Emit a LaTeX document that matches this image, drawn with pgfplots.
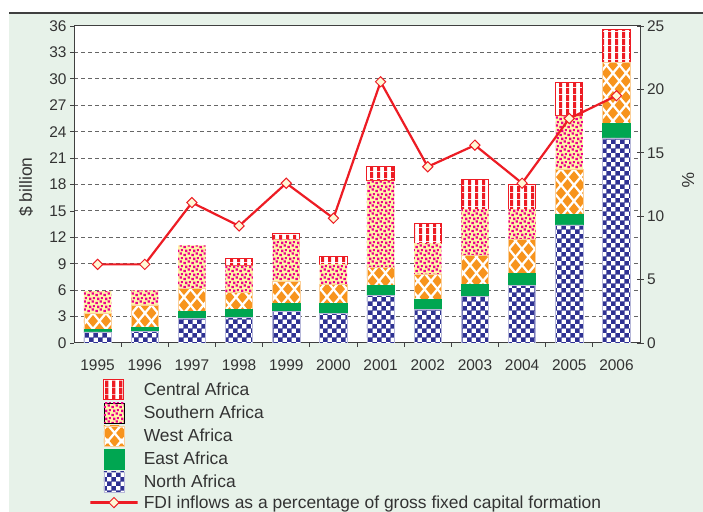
\documentclass[border=0pt]{standalone}
\usepackage{fontspec}
\setmainfont{Liberation Sans}
\usepackage{pgfplots}
\pgfplotsset{compat=1.18}
\usetikzlibrary{patterns}

\definecolor{bg}{HTML}{E7F2E9}
\definecolor{navy}{HTML}{2E3192}
\definecolor{egreen}{HTML}{00A651}
\definecolor{worange}{HTML}{F7941D}
\definecolor{spink}{HTML}{EC008C}
\definecolor{syellow}{HTML}{FFF6A8}
\definecolor{cred}{HTML}{ED1C24}
\definecolor{mkfill}{HTML}{FFF8D6}
\definecolor{txt}{HTML}{333333}

\pgfdeclarepatternformonly{checker}{\pgfqpoint{0pt}{0pt}}{\pgfqpoint{9pt}{9pt}}{\pgfqpoint{9pt}{9pt}}{%
  \pgfpathrectangle{\pgfqpoint{0pt}{0pt}}{\pgfqpoint{4.6pt}{4.6pt}}%
  \pgfpathrectangle{\pgfqpoint{4.5pt}{4.5pt}}{\pgfqpoint{4.6pt}{4.6pt}}%
  \pgfusepath{fill}}

\newcommand\pdiam[2]{%
  \pgfpathmoveto{\pgfpoint{#1pt-5.1pt}{#2pt}}%
  \pgfpathlineto{\pgfpoint{#1pt}{#2pt+5.9pt}}%
  \pgfpathlineto{\pgfpoint{#1pt+5.1pt}{#2pt}}%
  \pgfpathlineto{\pgfpoint{#1pt}{#2pt-5.9pt}}%
  \pgfpathclose}
\pgfdeclarepatternformonly{diam}{\pgfqpoint{0pt}{0pt}}{\pgfqpoint{13.5pt}{16pt}}{\pgfqpoint{13.5pt}{16pt}}{%
  \pdiam{6.75}{8}\pdiam{0}{0}\pdiam{13.5}{0}\pdiam{0}{16}\pdiam{13.5}{16}%
  \pgfusepath{fill}}

\pgfdeclarepatternformonly{sdots}{\pgfqpoint{0pt}{0pt}}{\pgfqpoint{8pt}{8pt}}{\pgfqpoint{8pt}{8pt}}{%
  \pgfpathrectangle{\pgfqpoint{0.5pt}{0.8pt}}{\pgfqpoint{2.3pt}{2.3pt}}%
  \pgfpathrectangle{\pgfqpoint{4.6pt}{2.4pt}}{\pgfqpoint{2.3pt}{2.3pt}}%
  \pgfpathrectangle{\pgfqpoint{2.2pt}{5.0pt}}{\pgfqpoint{2.3pt}{2.3pt}}%
  \pgfpathrectangle{\pgfqpoint{5.9pt}{5.9pt}}{\pgfqpoint{1.9pt}{1.9pt}}%
  \pgfusepath{fill}}

\pgfdeclarepatternformonly{vstripes}{\pgfqpoint{0pt}{0pt}}{\pgfqpoint{6.6pt}{6.6pt}}{\pgfqpoint{6.6pt}{6.6pt}}{%
  \pgfpathrectangle{\pgfqpoint{0pt}{0pt}}{\pgfqpoint{3.4pt}{6.6pt}}%
  \pgfusepath{fill}}

\pgfplotsset{
  patchleg/.style={legend image code/.code={\draw[##1] (-10bp,-10bp) rectangle (10bp,10bp);}},
  fdistyle/.style={cred, line width=2.2bp, mark=square*, mark size=3.6bp,
    mark options={rotate=45, fill=mkfill, draw=cred, line width=1bp, solid}},
  fdileg/.style={fdistyle,
    legend image code/.code={\draw[mark repeat=2, mark phase=2, ##1] plot coordinates {(-10bp,0bp) (0bp,0bp) (10bp,0bp)};}},
}

\begin{document}
\begin{tikzpicture}[x=1bp,y=1bp]
\useasboundingbox (0,0) rectangle (703,512);
\fill[white] (0,0) rectangle (703,512);
\fill[bg] (9,0) rectangle (703,499);
\draw[line width=1.5bp, black!75] (9,499) -- (703,499);

\begin{axis}[
  at={(74bp,169bp)}, anchor=south west,
  scale only axis, width=566bp, height=317bp,
  axis background/.style={fill=white},
  ybar stacked, bar width=0.58,
  xmin=-0.5, xmax=11.5, ymin=0, ymax=36,
  xtick={0,...,11},
  xticklabels={1995,1996,1997,1998,1999,2000,2001,2002,2003,2004,2005,2006},
  major x tick style={draw=none},
  minor xtick={0.5,1.5,...,10.5},
  minor tick length=4bp,
  major tick length=4bp,
  ytick={0,3,...,36},
  ytick pos=left, xtick pos=bottom,
  tick align=outside,
  tick style={black!75, line width=0.8bp},
  ymajorgrids,
  grid style={dash pattern=on 4bp off 3bp, black!60, line width=1bp},
  axis line style={black!75, line width=1bp},
  ticklabel style={font=\fontsize{15.5}{18}\selectfont, text=txt},
  /pgf/number format/assume math mode=true,
  xticklabel style={yshift=-9bp},
  ylabel={\$ billion},
  ylabel style={at={(axis description cs:-0.0848,0.492)}, anchor=center, font=\fontsize{17.5}{20}\selectfont, text=txt},
  reverse legend,
  legend cell align=left,
  legend style={at={(axis description cs:0.0265,-0.114)}, anchor=north west,
    draw=none, fill=none, inner sep=0pt, row sep=2.4bp, column sep=4bp,
    nodes={inner sep=1bp, text=txt},
    font=\fontsize{17.5}{20}\selectfont},
]
\addlegendimage{fdileg}
\addlegendentry{FDI inflows as a percentage of gross fixed capital formation}

\addplot[patchleg, fill=white, draw=navy!35, line width=0.6bp, postaction={pattern=checker, pattern color=navy}]
  coordinates {(0,1.25) (1,1.33) (2,2.8) (3,2.92) (4,3.56) (5,3.38) (6,5.38) (7,3.83) (8,5.26) (9,6.5) (10,13.4) (11,23.3)};
\addlegendentry{North Africa}
\addplot[patchleg, fill=egreen, draw=egreen, line width=0.6bp]
  coordinates {(0,0.25) (1,0.42) (2,0.75) (3,0.91) (4,0.94) (5,1.12) (6,1.12) (7,1.14) (8,1.4) (9,1.4) (10,1.2) (11,1.6)};
\addlegendentry{East Africa}
\addplot[patchleg, fill=white, draw=worange!45, line width=0.6bp, postaction={pattern=diam, pattern color=worange}]
  coordinates {(0,1.84) (1,2.58) (2,2.65) (3,1.93) (4,2.47) (5,2.16) (6,2.1) (7,2.83) (8,3.3) (9,3.88) (10,5.1) (11,7.0)};
\addlegendentry{West Africa}
\addplot[patchleg, fill=syellow, draw=none, postaction={pattern=sdots, pattern color=spink}]
  coordinates {(0,2.56) (1,1.64) (2,4.9) (3,3.02) (4,4.81) (5,2.31) (6,9.8) (7,3.53) (8,5.24) (9,3.42) (10,6.1) (11,0)};
\addlegendentry{Southern Africa}
\addplot[patchleg, fill=white, draw=cred, line width=1bp, postaction={pattern=vstripes, pattern color=cred}]
  coordinates {(0,0) (1,0) (2,0) (3,0.82) (4,0.64) (5,0.8) (6,1.6) (7,2.27) (8,3.4) (9,2.8) (10,3.8) (11,3.7)};
\addlegendentry{Central Africa}
\end{axis}

\begin{axis}[
  at={(74bp,169bp)}, anchor=south west,
  scale only axis, width=566bp, height=317bp,
  xmin=-0.5, xmax=11.5, ymin=0, ymax=25,
  axis x line=none, axis y line*=right,
  ytick={0,5,...,25},
  tick align=center,
  major tick length=7bp,
  tick style={black!75, line width=0.8bp},
  axis line style={black!75, line width=1bp},
  ticklabel style={font=\fontsize{15.5}{18}\selectfont, text=txt},
  /pgf/number format/assume math mode=true,
  ylabel={\%},
  ylabel style={at={(axis description cs:1.0848,0.514)}, anchor=center, rotate=180, font=\fontsize{17.5}{20}\selectfont, text=txt},
]
\addplot[fdistyle]
  coordinates {(0,6.2) (1,6.2) (2,11.07) (3,9.23) (4,12.6) (5,9.84) (6,20.6) (7,13.9) (8,15.6) (9,12.6) (10,17.7) (11,19.5)};
\end{axis}
\end{tikzpicture}
\end{document}
